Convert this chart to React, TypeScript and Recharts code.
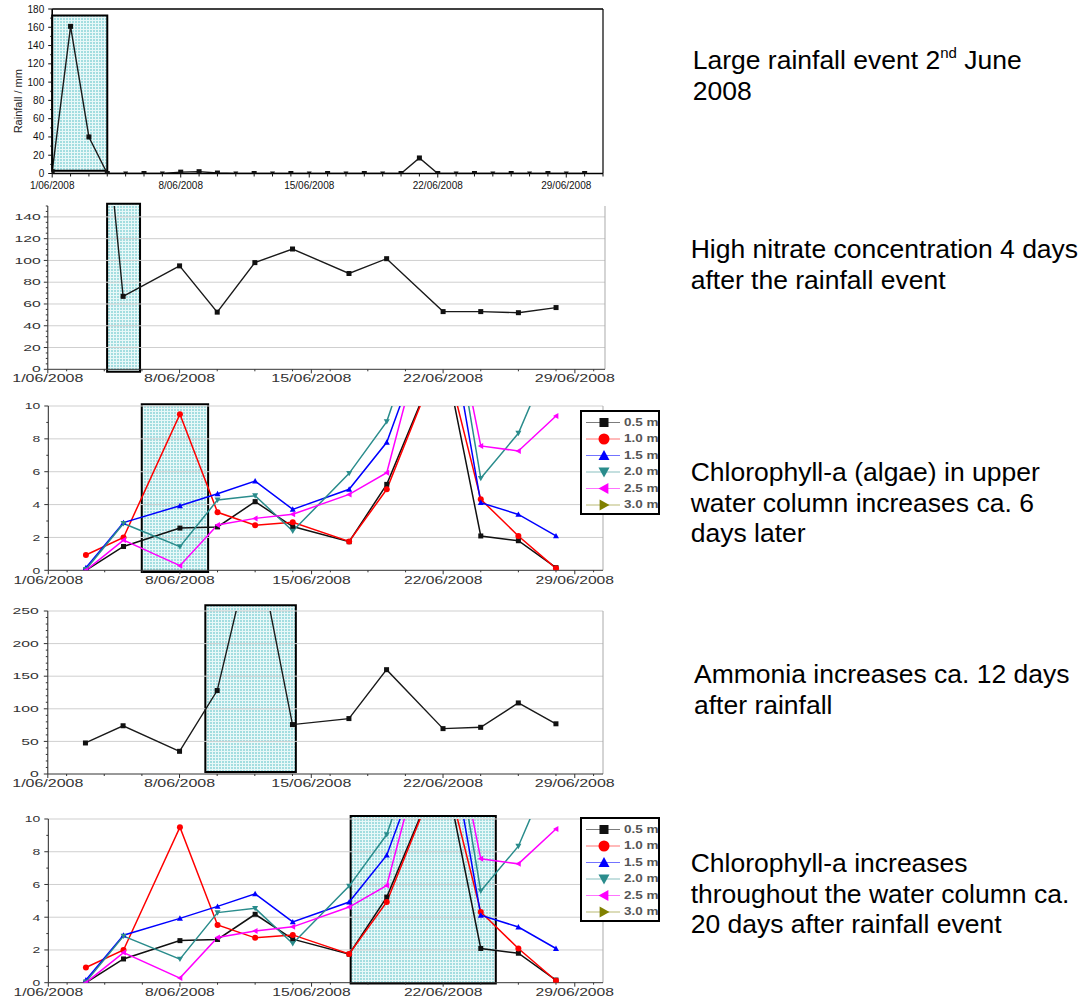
import React from 'react'
import { LineChart, Line, XAxis, YAxis, ReferenceArea, ReferenceLine, Legend } from 'recharts'

const FONT = "'Liberation Sans', Arial, Helvetica, sans-serif"
const W = 680

// ---- data, x = day of June 2008 ----
const rainDays = [1, 2, 3, 4, 5, 6, 7, 8, 9, 10, 11, 12, 13, 14, 15, 16, 17, 18, 19, 20, 21, 22, 23, 24, 25, 26, 27, 28, 29, 30]
const rainfall = [2, 161, 40, 0, 0, 0, 0, 1.5, 2, 0.5, 0, 0, 0, 0, 0, 0, 0, 0, 0, 0, 17, 0, 0, 0, 0, 0, 0, 0, 0, 0]

const nitrateDays = [4, 5, 8, 10, 12, 14, 17, 19, 22, 24, 26, 28]
const nitrate = [244, 67, 95, 52.5, 98, 110.5, 88, 101.6, 53, 53, 52, 56.7]

const ammoniaDays = [3, 5, 8, 10, 12, 14, 17, 19, 22, 24, 26, 28]
const ammonia = [47.6, 74, 34.8, 128, 370, 75.8, 85, 160, 69.6, 71.6, 109, 77]

const chlDays = [3, 5, 8, 10, 12, 14, 17, 19, 22, 24, 26, 28]
const chl05 = [0, 1.45, 2.57, 2.64, 4.18, 2.66, 1.74, 5.23, 13.5, 2.09, 1.8, 0.16]
const chl10 = [0.93, 2.0, 9.5, 3.53, 2.74, 2.92, 1.76, 4.93, 13.5, 4.32, 2.09, 0.12]
const chl15 = [0.16, 2.9, 3.93, 4.66, 5.43, 3.71, 4.93, 7.79, 17.2, 4.12, 3.4, 2.09]
const chl20 = [0.05, 2.85, 1.44, 4.28, 4.54, 2.39, 5.9, 9.05, 19.3, 5.6, 8.34, 13.7]
const chl25 = [0, 1.84, 0.28, 2.76, 3.16, 3.41, 4.62, 5.94, 19, 7.57, 7.26, 9.39]
const chl30: (number | null)[] = [null, null, null, null, null, null, null, null, null, null, null, null]

const dateTicks = [1, 8, 15, 22, 29]
const dateLabels = ['1/06/2008', '8/06/2008', '15/06/2008', '22/06/2008', '29/06/2008']
const evenDays = [2, 4, 6, 10, 12, 14, 16, 18, 20, 24, 26, 28, 30]

const rainYTicks = [0, 20, 40, 60, 80, 100, 120, 140, 160, 180]
const nitrateYTicks = [0, 20, 40, 60, 80, 100, 120, 140]
const chlYTicks = [0, 2, 4, 6, 8, 10]
const ammoniaYTicks = [0, 50, 100, 150, 200, 250]

const depthNames = ['0.5 m', '1.0 m', '1.5 m', '2.0 m', '2.5 m', '3.0 m']
const depthKeys = ['d05', 'd10', 'd15', 'd20', 'd25', 'd30']
const depthColors = ['#111111', '#ff0000', '#0000ff', '#2a8c8c', '#ff00ff', '#808000']
const depthShapes = ['square', 'circle', 'up', 'down', 'left', 'right']

const rainData = rainDays.map((day, i) => ({ day, rain: rainfall[i] }))
const nitrateData = nitrateDays.map((day, i) => ({ day, no3: nitrate[i] }))
const ammoniaData = ammoniaDays.map((day, i) => ({ day, nh3: ammonia[i] }))
const chlData = chlDays.map((day, i) => ({
  day, d05: chl05[i], d10: chl10[i], d15: chl15[i], d20: chl20[i], d25: chl25[i], d30: chl30[i],
}))

// ---- helpers ----
const steps = (from: number, to: number, step: number) => {
  const out: number[] = []
  for (let v = from; v <= to + 1e-9; v += step) out.push(Math.round(v * 100) / 100)
  return out
}
const merge = (a: number[], b: number[]) => Array.from(new Set([...a, ...b])).sort((p, q) => p - q)

function frame(plotTop: number, plotBottom: number, plotLeft: number, plotRight: number) {
  const mt = 24
  const xh = 30
  return {
    chartTop: plotTop - mt,
    height: plotBottom - plotTop + mt + xh,
    margin: { top: mt, right: W - plotRight, bottom: 0, left: 0 },
    yWidth: plotLeft,
    xHeight: xh,
  }
}

function Clip({ top, bottom, chartTop, children }: { top: number; bottom: number; chartTop: number; children: React.ReactNode }) {
  return (
    <div style={{ position: 'absolute', left: 0, top, width: W, height: bottom - top, overflow: 'hidden' }}>
      <div style={{ position: 'absolute', left: 0, top: chartTop - top }}>{children}</div>
    </div>
  )
}

function drawMarker(shape: string, cx: number, cy: number, s: number, fill: string, key?: React.Key) {
  const h = s / 2
  switch (shape) {
    case 'circle':
      return <circle key={key} cx={cx} cy={cy} r={h} fill={fill} />
    case 'up':
      return <polygon key={key} points={`${cx},${cy - h} ${cx + h},${cy + h * 0.8} ${cx - h},${cy + h * 0.8}`} fill={fill} />
    case 'down':
      return <polygon key={key} points={`${cx},${cy + h} ${cx + h},${cy - h * 0.8} ${cx - h},${cy - h * 0.8}`} fill={fill} />
    case 'left':
      return <polygon key={key} points={`${cx - h},${cy} ${cx + h * 0.8},${cy - h} ${cx + h * 0.8},${cy + h}`} fill={fill} />
    case 'right':
      return <polygon key={key} points={`${cx + h},${cy} ${cx - h * 0.8},${cy - h} ${cx - h * 0.8},${cy + h}`} fill={fill} />
    default:
      return <rect key={key} x={cx - h} y={cy - h} width={s} height={s} fill={fill} />
  }
}

const dotFor = (shape: string, fill: string, s: number) => (p: any) => {
  if (p.cx == null || p.cy == null || p.value == null) return <g key={p.index} />
  return drawMarker(shape, p.cx, p.cy, s, fill, p.index)
}

const rainDot = (p: any) => {
  if (p.cx == null || p.cy == null) return <g key={p.index} />
  const shape = p.value >= 1 || p.payload.day % 2 === 0 ? 'square' : 'down'
  return drawMarker(shape, p.cx, p.cy, 5, '#111', p.index)
}

const xTick = (minorLen: number, labelDy: number, sx: number, color: string) => (props: any) => {
  const { x, y, payload } = props
  const i = dateTicks.indexOf(payload.value)
  if (i < 0) return <line x1={x} x2={x} y1={y} y2={y + minorLen} stroke={color} strokeWidth={1} />
  return (
    <g>
      <line x1={x} x2={x} y1={y} y2={y + 4} stroke={color} strokeWidth={1} />
      <text transform={`translate(${x},${y + labelDy}) scale(${sx},1)`} textAnchor="middle" dominantBaseline="central"
        fontSize={10} fill={color} fontFamily={FONT}>{dateLabels[i]}</text>
    </g>
  )
}

const yTick = (majors: number[], gap: number, sx: number, color: string, fs = 9) => (props: any) => {
  const { x, y, payload } = props
  const v = payload.value
  if (!majors.includes(v)) return <line x1={x - 2} x2={x} y1={y} y2={y} stroke={color} strokeWidth={1} />
  return (
    <g>
      <line x1={x - 4} x2={x} y1={y} y2={y} stroke={color} strokeWidth={1} />
      <text transform={`translate(${x - gap},${y}) scale(${sx},1)`} textAnchor="end" dominantBaseline="central"
        fontSize={fs} fill={color} fontFamily={FONT}>{v}</text>
    </g>
  )
}

const RainLabel = (props: any) => {
  const vb = props.viewBox || { x: 0, y: 24, width: 52, height: 164 }
  const cx = vb.x + 18
  const cy = vb.y + vb.height / 2 + 10
  return (
    <text transform={`translate(${cx},${cy}) rotate(-90)`} textAnchor="middle" dominantBaseline="central"
      fontSize={11} fill="#222" fontFamily={FONT}>Rainfall / mm</text>
  )
}

const DepthLegend = () => (
  <svg width={82} height={106} style={{ display: 'block', overflow: 'visible' }}>
    <rect x={1} y={1} width={78} height={103} fill="#fff" stroke="#000" strokeWidth={2} />
    {depthNames.map((name, i) => {
      const cy = 12.5 + i * 16.5
      return (
        <g key={name}>
          <line x1={6} x2={40} y1={cy} y2={cy} stroke={depthColors[i]} strokeOpacity={0.55} strokeWidth={1.2} />
          {drawMarker(depthShapes[i], 24, cy, i === 0 ? 9 : 11, depthColors[i])}
          <text transform={`translate(44,${cy}) scale(1.35,1)`} dominantBaseline="central" fontSize={10}
            fontWeight="bold" fill="#555" fontFamily={FONT}>{name}</text>
        </g>
      )
    })}
  </svg>
)

const boxProps = { fill: 'url(#dotfill)', fillOpacity: 1, stroke: '#000', strokeWidth: 2, ifOverflow: 'visible' as const }

function ChlPanel({ clipTop, clipBottom, plotTop, plotBottom, legendTop, box }: {
  clipTop: number; clipBottom: number; plotTop: number; plotBottom: number; legendTop: number; box: number[]
}) {
  const g = frame(plotTop, plotBottom, 48.3, 603)
  return (
    <Clip top={clipTop} bottom={clipBottom} chartTop={g.chartTop}>
      <LineChart width={W} height={g.height} data={chlData} margin={g.margin}>
        <XAxis type="number" dataKey="day" domain={[1, 30.5]} allowDataOverflow ticks={merge(dateTicks, evenDays)} interval={0}
          tickSize={0} tickMargin={0} tickLine={false} tick={xTick(2, 10, 1.57, '#333')} axisLine={{ stroke: '#333' }} height={g.xHeight} />
        <YAxis type="number" domain={[0, 10]} allowDataOverflow ticks={merge(chlYTicks, steps(1, 9, 2))} interval={0}
          tickSize={0} tickMargin={0} tickLine={false} tick={yTick(chlYTicks, 8, 1.55, '#333')} axisLine={{ stroke: '#222' }} width={g.yWidth} />
        {chlYTicks.slice(1).map((v) => <ReferenceLine key={v} y={v} stroke="#cfcfcf" />)}
        <ReferenceLine x={30.5} stroke="#aaa" />
        <ReferenceArea x1={box[0]} x2={box[1]} y1={box[2]} y2={box[3]} {...boxProps} />
        {depthKeys.map((k, i) => (
          <Line key={k} type="linear" dataKey={k} name={depthNames[i]} stroke={depthColors[i]} strokeWidth={1.5}
            dot={dotFor(depthShapes[i], depthColors[i], i === 0 ? 5 : 6)} activeDot={false} isAnimationActive={false} />
        ))}
        <Legend layout="vertical" align="center" verticalAlign="middle" content={() => <DepthLegend />}
          wrapperStyle={{ left: 580, top: legendTop - 1 - g.chartTop, width: 82, height: 106 }} />
      </LineChart>
    </Clip>
  )
}

const noteStyle: React.CSSProperties = {
  position: 'absolute', fontFamily: FONT, fontSize: 26.5, lineHeight: '30.5px', color: '#000', whiteSpace: 'nowrap',
}

export default function App() {
  const g1 = frame(9, 173.5, 52.2, 603)
  const g2 = frame(206, 369.3, 47.8, 605)
  const g4 = frame(610.7, 773.7, 47.8, 603)

  return (
    <div style={{ position: 'absolute', left: 0, top: 0, width: 1086, height: 999, background: '#fff', overflow: 'hidden' }}>
      <svg width={0} height={0} style={{ position: 'absolute' }}>
        <defs>
          <pattern id="dotfill" width={3} height={3} patternUnits="userSpaceOnUse">
            <rect width={3} height={3} fill="#e8f8f8" />
            <rect width={2} height={2} fill="#a3dde0" />
          </pattern>
        </defs>
      </svg>

      {/* rainfall */}
      <Clip top={0} bottom={198} chartTop={g1.chartTop}>
        <LineChart width={W} height={g1.height} data={rainData} margin={g1.margin}>
          <XAxis type="number" dataKey="day" domain={[1, 31]} allowDataOverflow ticks={merge(dateTicks, steps(1, 31, 1))} interval={0}
            tickSize={0} tickMargin={0} tickLine={false} tick={xTick(3, 11.5, 1, '#111')} axisLine={{ stroke: '#000', strokeWidth: 1.6 }} height={g1.xHeight} />
          <YAxis type="number" domain={[0, 180]} allowDataOverflow ticks={merge(rainYTicks, steps(0, 180, 10))} interval={0}
            tickSize={0} tickMargin={0} tickLine={false} tick={yTick(rainYTicks, 8, 1, '#111', 10)} axisLine={{ stroke: '#000', strokeWidth: 1.6 }}
            width={g1.yWidth} label={<RainLabel />} />
          <ReferenceLine y={180} stroke="#000" strokeWidth={1.6} />
          <ReferenceLine x={31} stroke="#000" strokeWidth={1.2} />
          <ReferenceArea x1={1} x2={4} y1={3} y2={173} {...boxProps} />
          <Line type="linear" dataKey="rain" stroke="#1a1a1a" strokeWidth={1.4} dot={rainDot} activeDot={false} isAnimationActive={false} />
        </LineChart>
      </Clip>

      {/* nitrate */}
      <Clip top={198} bottom={392} chartTop={g2.chartTop}>
        <LineChart width={W} height={g2.height} data={nitrateData} margin={g2.margin}>
          <XAxis type="number" dataKey="day" domain={[1, 30.6]} allowDataOverflow ticks={merge(dateTicks, evenDays)} interval={0}
            tickSize={0} tickMargin={0} tickLine={false} tick={xTick(2, 9, 1.6, '#333')} axisLine={{ stroke: '#333' }} height={g2.xHeight} />
          <YAxis type="number" domain={[0, 150]} allowDataOverflow ticks={merge(nitrateYTicks, steps(0, 150, 5))} interval={0}
            tickSize={0} tickMargin={0} tickLine={false} tick={yTick(nitrateYTicks, 7, 1.75, '#333')} axisLine={{ stroke: '#222' }} width={g2.yWidth} />
          {nitrateYTicks.slice(1).map((v) => <ReferenceLine key={v} y={v} stroke="#cfcfcf" />)}
          <ReferenceLine x={30.6} stroke="#aaa" />
          <ReferenceArea x1={4.15} x2={5.9} y1={-2.2} y2={152} {...boxProps} />
          <Line type="linear" dataKey="no3" stroke="#1a1a1a" strokeWidth={1.4} dot={dotFor('square', '#111', 5)} activeDot={false} isAnimationActive={false} />
        </LineChart>
      </Clip>

      <ChlPanel clipTop={400} clipBottom={594} plotTop={406} plotBottom={570.3} legendTop={411} box={[5.97, 9.5, -0.1, 10.1]} />

      {/* ammonia */}
      <Clip top={601} bottom={800} chartTop={g4.chartTop}>
        <LineChart width={W} height={g4.height} data={ammoniaData} margin={g4.margin}>
          <XAxis type="number" dataKey="day" domain={[1, 30.5]} allowDataOverflow ticks={merge(dateTicks, evenDays)} interval={0}
            tickSize={0} tickMargin={0} tickLine={false} tick={xTick(2, 9.5, 1.6, '#333')} axisLine={{ stroke: '#333' }} height={g4.xHeight} />
          <YAxis type="number" domain={[0, 250]} allowDataOverflow ticks={merge(ammoniaYTicks, steps(0, 250, 10))} interval={0}
            tickSize={0} tickMargin={0} tickLine={false} tick={yTick(ammoniaYTicks, 9, 1.75, '#333')} axisLine={{ stroke: '#222' }} width={g4.yWidth} />
          {ammoniaYTicks.slice(1).map((v) => <ReferenceLine key={v} y={v} stroke="#cfcfcf" />)}
          <ReferenceLine x={30.5} stroke="#aaa" />
          <ReferenceArea x1={9.37} x2={14.18} y1={3} y2={259} {...boxProps} />
          <Line type="linear" dataKey="nh3" stroke="#1a1a1a" strokeWidth={1.4} dot={dotFor('square', '#111', 5)} activeDot={false} isAnimationActive={false} />
        </LineChart>
      </Clip>

      <ChlPanel clipTop={815} clipBottom={999} plotTop={819} plotBottom={982.7} legendTop={818.3} box={[17.08, 24.8, -0.05, 10.18]} />

      {/* notes */}
      <div style={{ ...noteStyle, left: 692.7, top: 45 }}>
        Large rainfall event 2<span style={{ fontSize: 15, verticalAlign: '0.75em', lineHeight: 0 }}>nd</span> June<br />2008
      </div>
      <div style={{ ...noteStyle, left: 690.7, top: 234 }}>
        High nitrate concentration 4 days<br />after the rainfall event
      </div>
      <div style={{ ...noteStyle, left: 690.7, top: 457 }}>
        Chlorophyll-a (algae) in upper<br />water column increases ca. 6<br />days later
      </div>
      <div style={{ ...noteStyle, left: 694, top: 659 }}>
        Ammonia increases ca. 12 days<br />after rainfall
      </div>
      <div style={{ ...noteStyle, left: 690.7, top: 848 }}>
        Chlorophyll-a increases<br />throughout the water column ca.<br />20 days after rainfall event
      </div>
    </div>
  )
}
